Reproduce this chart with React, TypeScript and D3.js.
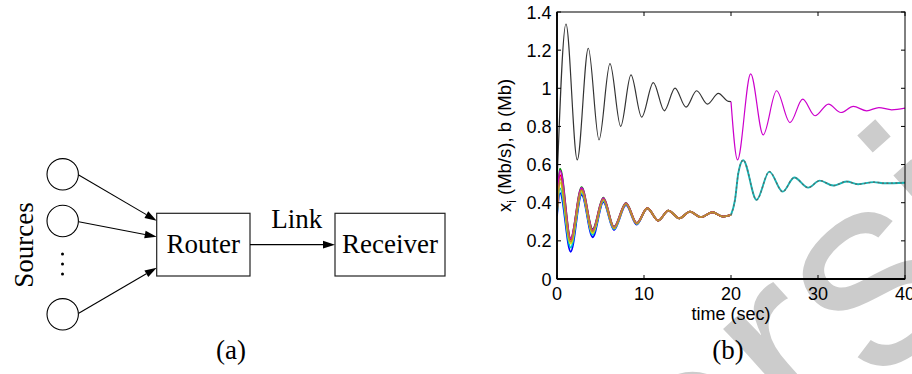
import React from "react";
import * as d3 from "d3";

// ---------- chart (b) data ----------
const xTicks = [0, 10, 20, 30, 40];
const yTicks = [0, 0.2, 0.4, 0.6, 0.8, 1, 1.2, 1.4];

// queue b(t), phase 1 (black) and phase 2 (magenta)
const bufTime1 = [0, 1.03, 2.33, 3.6, 4.83, 6.09, 7.32, 8.5, 9.73, 11.07, 12.34, 13.56, 14.83, 16.05, 17.3, 18.55, 19.7, 20];
const bufVal1 = [0.5, 1.337, 0.625, 1.21, 0.73, 1.129, 0.8, 1.07, 0.849, 1.03, 0.882, 1.001, 0.901, 0.987, 0.917, 0.973, 0.931, 0.93];
const bufTime2 = [20, 20.75, 22.26, 23.7, 25.24, 26.78, 28.24, 29.66, 31.2, 32.64, 34.06, 35.6, 37.0, 38.47, 40];
const bufVal2 = [0.93, 0.625, 1.076, 0.756, 0.987, 0.82, 0.943, 0.856, 0.917, 0.873, 0.905, 0.882, 0.899, 0.887, 0.896];

// source rates x_i(t), phase 1
const rateTime1 = [0, 0.35, 1.57, 2.83, 4.1, 5.33, 6.55, 7.93, 9.16, 10.38, 11.65, 12.8, 14.06, 15.29, 16.55, 17.85, 19.1, 20];
const rateTail1 = [0.371, 0.306, 0.359, 0.318, 0.353, 0.324, 0.35, 0.327, 0.336];
const rateBlue = [0.33, 0.45, 0.143, 0.441, 0.219, 0.403, 0.257, 0.387, 0.285];
const rateCyan = [0.34, 0.475, 0.165, 0.452, 0.232, 0.41, 0.261, 0.391, 0.288];
const rateYellow = [0.35, 0.505, 0.185, 0.46, 0.241, 0.415, 0.265, 0.394, 0.29];
const rateGreen = [0.36, 0.578, 0.212, 0.482, 0.262, 0.426, 0.274, 0.399, 0.294];
const rateRed = [0.36, 0.545, 0.205, 0.472, 0.253, 0.421, 0.27, 0.396, 0.292];
const rateMagenta = [0.36, 0.568, 0.212, 0.478, 0.258, 0.424, 0.272, 0.398, 0.293];
const rateOchre = [0.35, 0.525, 0.195, 0.466, 0.248, 0.418, 0.268, 0.395, 0.291];
const rateColors = ["#0000ff", "#00c8c8", "#e6e600", "#008c00", "#ff0000", "#cc00cc", "#b8902e"];

// source rates, phase 2
const rateTime2 = [20, 20.46, 20.84, 21.4, 22.94, 24.4, 25.94, 27.27, 28.88, 30.2, 31.76, 33.3, 34.6, 36.4, 37.7, 40];
const rateVal2 = [0.336, 0.415, 0.555, 0.623, 0.415, 0.563, 0.458, 0.532, 0.479, 0.516, 0.49, 0.511, 0.497, 0.508, 0.502, 0.505];

// ---------- diagram (a) ----------
const sourceCenters = [
  [62.7, 174.3],
  [62.7, 221],
  [62.7, 314.3],
];
const ellipsisY = [254, 264, 274];

const W = 912;
const H = 374;
const plot = { left: 557, right: 905, top: 12, bottom: 279 };

const serif = "'Liberation Serif', 'Times New Roman', serif";
const sans = "'Liberation Sans', Arial, Helvetica, sans-serif";

function Arrow({ x1, y1, x2, y2 }: { x1: number; y1: number; x2: number; y2: number }) {
  const len = 12;
  const half = 3.8;
  const dx = x2 - x1;
  const dy = y2 - y1;
  const d = Math.hypot(dx, dy);
  const ux = dx / d;
  const uy = dy / d;
  const bx = x2 - ux * len;
  const by = y2 - uy * len;
  const pts = [
    [x2, y2],
    [bx - uy * half, by + ux * half],
    [bx + uy * half, by - ux * half],
  ];
  return (
    <g>
      <line x1={x1} y1={y1} x2={bx} y2={by} stroke="#000" strokeWidth={1.1} />
      <polygon points={pts.map((p) => p.join(",")).join(" ")} fill="#000" />
    </g>
  );
}

export default function App() {
  const x = d3.scaleLinear().domain([0, 40]).range([plot.left, plot.right]);
  const y = d3.scaleLinear().domain([0, 1.4]).range([plot.bottom, plot.top]);
  const line = d3
    .line<[number, number]>()
    .x((d) => x(d[0]))
    .y((d) => y(d[1]))
    .curve(d3.curveMonotoneX);

  const zip = (t: number[], v: number[]) => t.map((ti, i) => [ti, v[i]] as [number, number]);
  const rateSeries = [rateBlue, rateCyan, rateYellow, rateGreen, rateRed, rateMagenta, rateOchre].map((head) =>
    zip(rateTime1, head.concat(rateTail1))
  );
  const fmt = d3.format("~g");

  const router = { x: 156.7, y: 213.3, w: 93.3, h: 62.7 };
  const receiver = { x: 335, y: 213.3, w: 110, h: 62.7 };
  const midY = router.y + router.h / 2;

  return (
    <svg
      width={W}
      height={H}
      viewBox={`0 0 ${W} ${H}`}
      style={{ position: "absolute", left: 0, top: 0, background: "#fff" }}
    >
      <defs>
        <clipPath id="plotclip">
          <rect x={plot.left} y={plot.top - 2} width={plot.right - plot.left} height={plot.bottom - plot.top + 2} />
        </clipPath>
      </defs>

      {/* watermark */}
      <text
        transform="translate(568,664) rotate(-42)"
        fontFamily={sans}
        fontSize={275}
        fill="#cccccc"
      >
        Version
      </text>

      {/* ---------- (a) diagram ---------- */}
      {sourceCenters.map(([cx, cy], i) => (
        <circle key={i} cx={cx} cy={cy} r={15.7} fill="none" stroke="#000" strokeWidth={1.1} />
      ))}
      {ellipsisY.map((cy, i) => (
        <circle key={i} cx={62.5} cy={cy} r={1.5} fill="#000" />
      ))}
      <Arrow x1={78.7} y1={175} x2={router.x} y2={220.7} />
      <Arrow x1={78.7} y1={221.7} x2={router.x} y2={236.7} />
      <Arrow x1={78.7} y1={313.3} x2={router.x} y2={267.7} />
      <rect x={router.x} y={router.y} width={router.w} height={router.h} fill="none" stroke="#222" strokeWidth={1.2} />
      <rect x={receiver.x} y={receiver.y} width={receiver.w} height={receiver.h} fill="none" stroke="#222" strokeWidth={1.2} />
      <Arrow x1={router.x + router.w} y1={midY} x2={receiver.x} y2={midY} />
      <text x={router.x + router.w / 2} y={253.3} textAnchor="middle" fontFamily={serif} fontSize={27}>
        Router
      </text>
      <text x={receiver.x + receiver.w / 2} y={253.3} textAnchor="middle" fontFamily={serif} fontSize={27}>
        Receiver
      </text>
      <text x={296.7} y={228.3} textAnchor="middle" fontFamily={serif} fontSize={27}>
        Link
      </text>
      <text transform="translate(32.5,245) rotate(-90)" textAnchor="middle" fontFamily={serif} fontSize={27}>
        Sources
      </text>
      <text x={231} y={359} textAnchor="middle" fontFamily={serif} fontSize={27}>
        (a)
      </text>

      {/* ---------- (b) chart ---------- */}
      <g clipPath="url(#plotclip)">
        <path d={line(zip(bufTime1, bufVal1)) || ""} fill="none" stroke="#333" strokeWidth={1.2} />
        <path d={line(zip(bufTime2, bufVal2)) || ""} fill="none" stroke="#cc00cc" strokeWidth={1.2} />
        {rateSeries.map((s, i) => (
          <path key={i} d={line(s) || ""} fill="none" stroke={rateColors[i]} strokeWidth={1.8} />
        ))}
        <path d={line(zip(rateTime2, rateVal2)) || ""} fill="none" stroke="#14b4b4" strokeWidth={1.9} />
        <path
          d={line(zip(rateTime2, rateVal2)) || ""}
          fill="none"
          stroke="#5a6a6a"
          strokeWidth={1.3}
          strokeDasharray="2,2.5"
        />
      </g>

      {/* axes box */}
      <rect
        x={plot.left}
        y={plot.top}
        width={plot.right - plot.left}
        height={plot.bottom - plot.top}
        fill="none"
        stroke="#000"
        strokeWidth={1}
      />
      <line x1={plot.left} y1={plot.top} x2={plot.left} y2={plot.bottom} stroke="#000" strokeWidth={1.8} />
      <line x1={plot.left} y1={plot.bottom} x2={plot.right} y2={plot.bottom} stroke="#000" strokeWidth={1.8} />

      {xTicks.map((t) => (
        <g key={"x" + t}>
          <line x1={x(t)} x2={x(t)} y1={plot.bottom} y2={plot.bottom - 4} stroke="#000" strokeWidth={1} />
          <line x1={x(t)} x2={x(t)} y1={plot.top} y2={plot.top + 4} stroke="#000" strokeWidth={1} />
          <text x={x(t)} y={300} textAnchor="middle" fontFamily={sans} fontSize={18}>
            {fmt(t)}
          </text>
        </g>
      ))}
      {yTicks.map((t) => (
        <g key={"y" + t}>
          <line x1={plot.left} x2={plot.left + 4} y1={y(t)} y2={y(t)} stroke="#000" strokeWidth={1} />
          <line x1={plot.right} x2={plot.right - 4} y1={y(t)} y2={y(t)} stroke="#000" strokeWidth={1} />
          <text x={551.5} y={y(t) + 6.5} textAnchor="end" fontFamily={sans} fontSize={18}>
            {fmt(t)}
          </text>
        </g>
      ))}
      <text x={(plot.left + plot.right) / 2} y={320} textAnchor="middle" fontFamily={sans} fontSize={18}>
        time (sec)
      </text>
      <text
        transform={`translate(511,${(plot.top + plot.bottom) / 2}) rotate(-90)`}
        textAnchor="middle"
        fontFamily={sans}
        fontSize={18.5}
      >
        x
        <tspan fontSize={12} dy={5}>
          i
        </tspan>
        <tspan dy={-5}> (Mb/s), b (Mb)</tspan>
      </text>
      <text x={728} y={359} textAnchor="middle" fontFamily={serif} fontSize={27}>
        (b)
      </text>
    </svg>
  );
}
